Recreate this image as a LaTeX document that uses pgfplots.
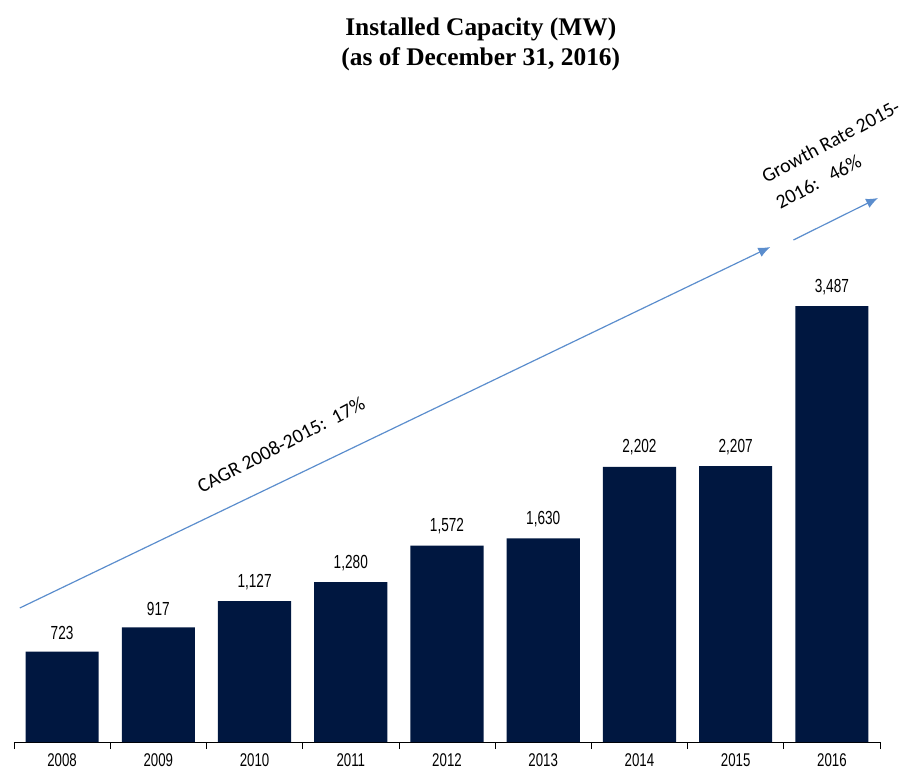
\documentclass[border=0pt]{standalone}
\usepackage{fontspec}
\setmainfont{Liberation Sans}
\newfontfamily\narrow[FakeStretch=0.72]{Liberation Sans}
\newfontfamily\calib{Carlito}
\newfontfamily\titlefont{Liberation Serif}
\usepackage{pgfplots}
\pgfplotsset{compat=1.18}
\usetikzlibrary{arrows.meta}
\definecolor{navy}{RGB}{0,23,64}
\definecolor{arrowblue}{RGB}{91,141,205}

\pgfplotstableread{
x year mw
0 2008 723
1 2009 917
2 2010 1127
3 2011 1280
4 2012 1572
5 2013 1630
6 2014 2202
7 2015 2207
8 2016 3487
}\capacity

\begin{document}
\begin{tikzpicture}
\begin{axis}[
    width=866bp, height=650bp, scale only axis,
    xmin=-0.5, xmax=8.5, ymin=0, ymax=5200,
    axis x line*=bottom, hide y axis,
    x axis line style={black, line width=0.8pt},
    xtick={0,...,8},
    xticklabels={2008,2009,2010,2011,2012,2013,2014,2015,2016},
    major tick length=0pt,
    minor xtick={-0.5,0.5,...,8.5},
    minor tick length=7bp,
    tick align=outside,
    every tick/.style={black, line width=0.6pt},
    xticklabel style={font=\narrow\fontsize{18.5}{18.5}\selectfont, yshift=-8bp},
    title={Installed Capacity (MW)\\(as of December 31, 2016)},
    title style={font=\titlefont\bfseries\fontsize{25.5}{29.5}\selectfont, align=center,
      at={(0.539,1)}, anchor=south, yshift=12bp},
    clip=false,
  ]
\addplot[ybar, bar width=0.76, fill=navy, draw=none,
    nodes near coords,
    every node near coord/.append style={font=\narrow\fontsize{19}{19}\selectfont, black, yshift=8bp},
    /pgf/number format/.cd, 1000 sep={,}, assume math mode=true]
  table[x=x, y=mw] {\capacity};

\coordinate (bl) at (rel axis cs:0,0);
\coordinate (br) at (rel axis cs:1,0);

% annotation arrows
\draw[-{Latex[length=12bp,width=10bp]}, arrowblue, line width=1.2pt]
  (axis cs:-0.44,1072) -- (axis cs:7.36,3960);
\draw[-{Latex[length=12bp,width=10bp]}, arrowblue, line width=1.2pt]
  (axis cs:7.60,4016) -- (axis cs:8.48,4352);

\node[rotate=27.5, font=\calib\fontsize{20}{24}\selectfont]
  at (axis cs:2.275,2376) {CAGR 2008-2015:\ \ 17\%};
\node[rotate=28, align=left, font=\calib\fontsize{20}{30}\selectfont]
  at (axis cs:8.06,4700) {Growth Rate 2015-\\2016:\ \ \ 46\%};
\end{axis}
\pgfresetboundingbox
\path ([xshift=-14bp,yshift=-28bp]bl) rectangle ([xshift=33bp,yshift=742bp]br);
\end{tikzpicture}
\end{document}
